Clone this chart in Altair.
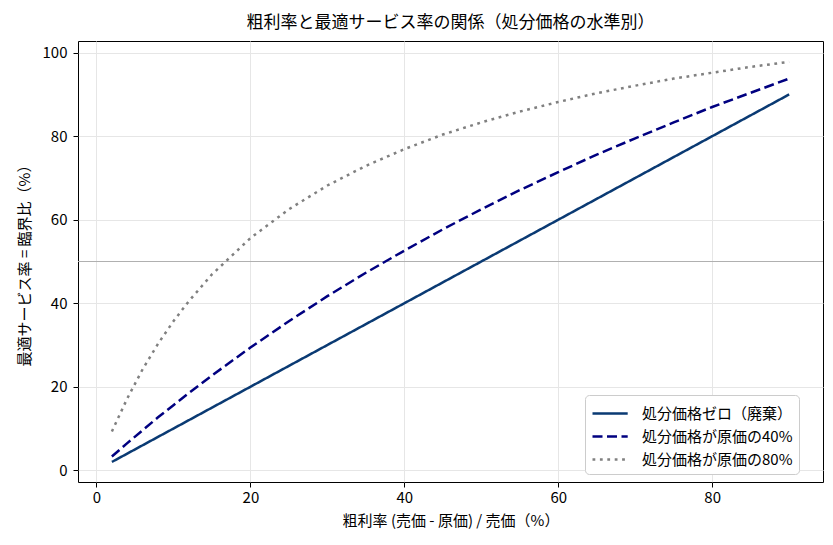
import altair as alt
import pandas as pd

FONT = "Noto Sans CJK JP"

margin = [2, 4, 6, 8, 10, 12, 15, 20, 25, 30, 35, 40, 45, 50, 55, 60, 65, 70, 75, 80, 85, 90]
salvage_zero = [2, 4, 6, 8, 10, 12, 15, 20, 25, 30, 35, 40, 45, 50, 55, 60, 65, 70, 75, 80, 85, 90]
salvage_40 = [3.3, 6.5, 9.6, 12.7, 15.6, 18.5, 22.7, 29.4, 35.7, 41.7, 47.3, 52.6, 57.7, 62.5,
              67.1, 71.4, 75.6, 79.5, 83.3, 87.0, 90.4, 93.8]
salvage_80 = [9.3, 17.2, 24.2, 30.3, 35.7, 40.5, 46.9, 55.6, 62.5, 68.2, 72.9, 76.9, 80.4, 83.3,
              85.9, 88.2, 90.3, 92.1, 93.8, 95.2, 96.6, 97.8]

series_names = ["処分価格ゼロ（廃棄）", "処分価格が原価の40%", "処分価格が原価の80%"]
series_colors = ["#0a3a73", "#000080", "#808080"]
series_dash = [[1, 0], [10, 4.5], [2.8, 4.6]]

frame = pd.concat([
    pd.DataFrame({"margin": margin, "rate": vals, "series": name, "order": i})
    for i, (name, vals) in enumerate(zip(series_names, [salvage_zero, salvage_40, salvage_80]))
])

x_scale = alt.Scale(domain=[-2.4, 94.4], nice=False, zero=False)
y_scale = alt.Scale(domain=[-2.8, 102.8], nice=False, zero=False)

half_line = alt.Chart(pd.DataFrame({"y": [50]})).mark_rule(color="#b0b0b0", strokeWidth=1).encode(
    y=alt.Y("y:Q", scale=y_scale),
)

lines = alt.Chart(frame).mark_line(strokeWidth=2.5, clip=True).encode(
    x=alt.X("margin:Q", scale=x_scale, title="粗利率 (売価 - 原価) / 売価（%）",
            axis=alt.Axis(values=[0, 20, 40, 60, 80], labelPadding=3, titlePadding=8)),
    y=alt.Y("rate:Q", scale=y_scale, title="最適サービス率 = 臨界比（%）",
            axis=alt.Axis(values=[0, 20, 40, 60, 80, 100], labelPadding=6, titlePadding=10)),
    color=alt.Color("series:N", scale=alt.Scale(domain=series_names, range=series_colors),
                    legend=alt.Legend(title=None, orient="none", legendX=507, legendY=354,
                                      padding=6, fillColor="white", strokeColor="#cccccc",
                                      cornerRadius=4, symbolType="M-1,0H2.2", symbolSize=484,
                                      symbolStrokeWidth=2.5, labelFontSize=15, labelFont=FONT,
                                      rowPadding=2, labelOffset=26, labelColor="#000000")),
    strokeDash=alt.StrokeDash("series:N", scale=alt.Scale(domain=series_names, range=series_dash),
                              legend=None),
    detail="series:N",
    order="margin:Q",
)

chart = alt.layer(half_line, lines).properties(
    width=745,
    height=441,
    title=alt.TitleParams("粗利率と最適サービス率の関係（処分価格の水準別）", fontSize=17,
                          font=FONT, fontWeight="normal", color="#000000", offset=9),
    autosize=alt.AutoSizeParams(type="none"),
    padding={"left": 70, "top": 33, "right": 2, "bottom": 50},
).configure_view(
    stroke="#000000", strokeWidth=1,
).configure_axis(
    grid=True, gridColor="#e6e6e6", gridWidth=1,
    domain=False, tickColor="#000000", tickSize=5, tickWidth=1,
    labelFont=FONT, labelFontSize=15, labelColor="#000000",
    titleFont=FONT, titleFontSize=15, titleFontWeight="normal", titleColor="#000000",
)

chart.save("out.html", embed_options={"renderer": "svg", "actions": False})
